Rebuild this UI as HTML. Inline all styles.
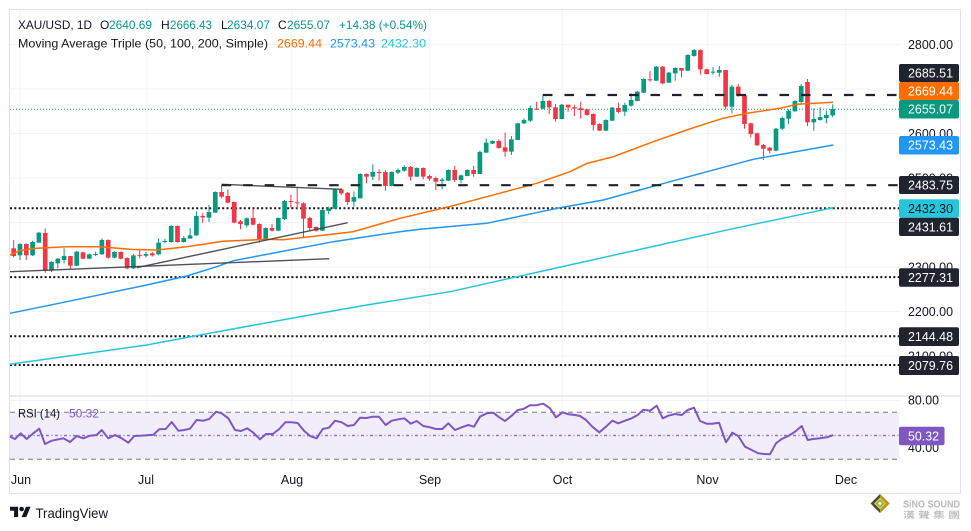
<!DOCTYPE html>
<html>
<head>
<meta charset="utf-8">
<style>
html,body{margin:0;padding:0;background:#fff;}
svg{display:block;}
text{font-family:"Liberation Sans","DejaVu Sans",sans-serif;}
</style>
</head>
<body>
<svg width="971" height="531" viewBox="0 0 971 531" xmlns="http://www.w3.org/2000/svg">
<rect x="0" y="0" width="971" height="531" fill="#ffffff"/>

<!-- grid -->
<g stroke="#f0f3fa" stroke-width="1">
  <line x1="10" y1="44.5" x2="899" y2="44.5"/>
  <line x1="10" y1="89" x2="899" y2="89"/>
  <line x1="10" y1="133.5" x2="899" y2="133.5"/>
  <line x1="10" y1="178" x2="899" y2="178"/>
  <line x1="10" y1="222.5" x2="899" y2="222.5"/>
  <line x1="10" y1="267" x2="899" y2="267"/>
  <line x1="10" y1="311.5" x2="899" y2="311.5"/>
  <line x1="10" y1="356" x2="899" y2="356"/>
  <line x1="10" y1="400.5" x2="899" y2="400.5"/>
  <line x1="10" y1="447.6" x2="899" y2="447.6"/>
  <line x1="20" y1="10" x2="20" y2="464"/>
  <line x1="147" y1="10" x2="147" y2="464"/>
  <line x1="291.7" y1="10" x2="291.7" y2="464"/>
  <line x1="430" y1="10" x2="430" y2="464"/>
  <line x1="562.3" y1="10" x2="562.3" y2="464"/>
  <line x1="707.7" y1="10" x2="707.7" y2="464"/>
  <line x1="845.7" y1="10" x2="845.7" y2="464"/>
</g>

<!-- frame -->
<rect x="9.5" y="9.5" width="951" height="484" fill="none" stroke="#e0e3eb" stroke-width="1"/>
<line x1="10" y1="396" x2="960" y2="396" stroke="#e0e3eb" stroke-width="1.5"/>

<!-- header -->
<g font-size="12">
  <text x="18" y="29" fill="#131722" textLength="74" lengthAdjust="spacingAndGlyphs">XAU/USD, 1D</text>
  <text x="100" y="29" fill="#131722">O</text>
  <text x="109" y="29" fill="#089981" textLength="43" lengthAdjust="spacingAndGlyphs">2640.69</text>
  <text x="161" y="29" fill="#131722">H</text>
  <text x="170" y="29" fill="#089981" textLength="42" lengthAdjust="spacingAndGlyphs">2666.43</text>
  <text x="221" y="29" fill="#131722">L</text>
  <text x="227" y="29" fill="#089981" textLength="43" lengthAdjust="spacingAndGlyphs">2634.07</text>
  <text x="278" y="29" fill="#131722">C</text>
  <text x="287" y="29" fill="#089981" textLength="43" lengthAdjust="spacingAndGlyphs">2655.07</text>
  <text x="339" y="29" fill="#089981" textLength="88" lengthAdjust="spacingAndGlyphs">+14.38 (+0.54%)</text>
  <text x="18" y="47.5" fill="#131722" textLength="250" lengthAdjust="spacingAndGlyphs">Moving Average Triple (50, 100, 200, Simple)</text>
  <text x="277" y="47.5" fill="#ff6d00" textLength="45" lengthAdjust="spacingAndGlyphs">2669.44</text>
  <text x="330" y="47.5" fill="#2196f3" textLength="45" lengthAdjust="spacingAndGlyphs">2573.43</text>
  <text x="381" y="47.5" fill="#26c6da" textLength="45" lengthAdjust="spacingAndGlyphs">2432.30</text>
</g>

<!-- horizontal levels -->
<line x1="10" y1="109.2" x2="899" y2="109.2" stroke="#089981" stroke-width="1" stroke-dasharray="1 2"/>
<g stroke="#131722" stroke-width="2" stroke-dasharray="2 2.33">
  <line x1="10" y1="208.2" x2="899" y2="208.2"/>
  <line x1="10" y1="277.1" x2="899" y2="277.1"/>
  <line x1="10" y1="336.2" x2="899" y2="336.2"/>
  <line x1="10" y1="365" x2="899" y2="365"/>
</g>

<!-- candles region 1 -->
<g transform="translate(7.4,150) scale(6.3,0.333333)">
<g fill="#f23645">
<rect x="0.92" y="270" width="0.16" height="52"/><rect x="0.63" y="295" width="0.74" height="23"/>
<rect x="2.92" y="280" width="0.16" height="50"/><rect x="2.63" y="282" width="0.74" height="34"/>
<rect x="5.92" y="235" width="0.16" height="133"/><rect x="5.63" y="249" width="0.74" height="113"/>
<rect x="9.92" y="318" width="0.16" height="39"/><rect x="9.63" y="318" width="0.74" height="29"/>
<rect x="11.92" y="305" width="0.16" height="23"/><rect x="11.63" y="307" width="0.74" height="19"/>
<rect x="15.92" y="268" width="0.16" height="58"/><rect x="15.63" y="270" width="0.74" height="53"/>
<rect x="17.92" y="304" width="0.16" height="24"/><rect x="17.63" y="306" width="0.74" height="20"/>
<rect x="18.92" y="322" width="0.16" height="36"/><rect x="18.63" y="324" width="0.74" height="31"/>
<rect x="20.92" y="298" width="0.16" height="27"/><rect x="20.63" y="314.5" width="0.74" height="3"/>
<rect x="22.92" y="306" width="0.16" height="14"/><rect x="22.63" y="310" width="0.74" height="6"/>
<rect x="26.92" y="226" width="0.16" height="52"/><rect x="26.63" y="228" width="0.74" height="48"/>
<rect x="30.92" y="190" width="0.16" height="28"/><rect x="30.63" y="198" width="0.74" height="4"/>
<rect x="33.92" y="105" width="0.16" height="40"/><rect x="33.63" y="126" width="0.74" height="14"/>
<rect x="34.92" y="118" width="0.16" height="42"/><rect x="34.63" y="138" width="0.74" height="20"/>
<rect x="35.92" y="155" width="0.16" height="65"/><rect x="35.63" y="156" width="0.74" height="62"/>
<rect x="36.92" y="210" width="0.16" height="28"/><rect x="36.63" y="214" width="0.74" height="8"/>
<rect x="38.92" y="176" width="0.16" height="50"/><rect x="38.63" y="204" width="0.74" height="20"/>
<rect x="39.92" y="220" width="0.16" height="58"/><rect x="39.63" y="222" width="0.74" height="46"/>
<rect x="41.92" y="222" width="0.16" height="23"/><rect x="41.63" y="234" width="0.74" height="8"/>
<rect x="44.92" y="134" width="0.16" height="41"/><rect x="44.63" y="153" width="0.74" height="3"/>
<rect x="45.92" y="113" width="0.16" height="65"/><rect x="45.63" y="157" width="0.74" height="3"/>
<rect x="46.92" y="157" width="0.16" height="105"/><rect x="46.63" y="160" width="0.74" height="46"/>
<rect x="47.92" y="200" width="0.16" height="41"/><rect x="47.63" y="204" width="0.74" height="30"/>
<rect x="48.92" y="229" width="0.16" height="16"/><rect x="48.63" y="231" width="0.74" height="11"/>
<rect x="52.92" y="115" width="0.16" height="20"/><rect x="52.63" y="118" width="0.74" height="12"/>
<rect x="53.92" y="126" width="0.16" height="39"/><rect x="53.63" y="128" width="0.74" height="28"/>
</g>
<g fill="#089981">
<rect x="1.92" y="280" width="0.16" height="50"/><rect x="1.63" y="282" width="0.74" height="34"/>
<rect x="3.92" y="272" width="0.16" height="46"/><rect x="3.63" y="276" width="0.74" height="40"/>
<rect x="4.92" y="246" width="0.16" height="32"/><rect x="4.63" y="248" width="0.74" height="30"/>
<rect x="6.92" y="334" width="0.16" height="32"/><rect x="6.63" y="336" width="0.74" height="26"/>
<rect x="7.92" y="324" width="0.16" height="31"/><rect x="7.63" y="326" width="0.74" height="14"/>
<rect x="8.92" y="295" width="0.16" height="45"/><rect x="8.63" y="318" width="0.74" height="12"/>
<rect x="10.92" y="303" width="0.16" height="45"/><rect x="10.63" y="305" width="0.74" height="42"/>
<rect x="12.92" y="311" width="0.16" height="17"/><rect x="12.63" y="313" width="0.74" height="13"/>
<rect x="13.92" y="305" width="0.16" height="13"/><rect x="13.63" y="312" width="0.74" height="3"/>
<rect x="14.92" y="265" width="0.16" height="50"/><rect x="14.63" y="270" width="0.74" height="43"/>
<rect x="16.92" y="304" width="0.16" height="21"/><rect x="16.63" y="306" width="0.74" height="17"/>
<rect x="19.92" y="312" width="0.16" height="45"/><rect x="19.63" y="316" width="0.74" height="39"/>
<rect x="21.92" y="305" width="0.16" height="17"/><rect x="21.63" y="312" width="0.74" height="5"/>
<rect x="23.92" y="265" width="0.16" height="51"/><rect x="23.63" y="278" width="0.74" height="35"/>
<rect x="24.92" y="267" width="0.16" height="13"/><rect x="24.63" y="273" width="0.74" height="3"/>
<rect x="25.92" y="226" width="0.16" height="52"/><rect x="25.63" y="228" width="0.74" height="48"/>
<rect x="27.92" y="258" width="0.16" height="20"/><rect x="27.63" y="264" width="0.74" height="12"/>
<rect x="28.92" y="235" width="0.16" height="31"/><rect x="28.63" y="256" width="0.74" height="10"/>
<rect x="29.92" y="184" width="0.16" height="74"/><rect x="29.63" y="198" width="0.74" height="58"/>
<rect x="31.92" y="165" width="0.16" height="51"/><rect x="31.63" y="186" width="0.74" height="17"/>
<rect x="32.92" y="124" width="0.16" height="64"/><rect x="32.63" y="126" width="0.74" height="62"/>
<rect x="37.92" y="202" width="0.16" height="30"/><rect x="37.63" y="205" width="0.74" height="21"/>
<rect x="40.92" y="232" width="0.16" height="40"/><rect x="40.63" y="234" width="0.74" height="34"/>
<rect x="42.92" y="202" width="0.16" height="42"/><rect x="42.63" y="204" width="0.74" height="38"/>
<rect x="43.92" y="150" width="0.16" height="60"/><rect x="43.63" y="153" width="0.74" height="54"/>
<rect x="49.92" y="178" width="0.16" height="65"/><rect x="49.63" y="180" width="0.74" height="62"/>
<rect x="50.92" y="170" width="0.16" height="23"/><rect x="50.63" y="175" width="0.74" height="8"/>
<rect x="51.92" y="116" width="0.16" height="61"/><rect x="51.63" y="118" width="0.74" height="58"/>
<rect x="54.92" y="124" width="0.16" height="46"/><rect x="54.63" y="141" width="0.74" height="14"/>
</g>
</g>

<!-- candles region 2 -->
<g transform="translate(7.4,80) scale(6.3,0.333333)">
<g fill="#f23645">
<rect x="56.92" y="280" width="0.16" height="30"/><rect x="56.63" y="282" width="0.74" height="8"/>
<rect x="58.92" y="268" width="0.16" height="34"/><rect x="58.63" y="276" width="0.74" height="3"/>
<rect x="59.92" y="270" width="0.16" height="62"/><rect x="59.63" y="276" width="0.74" height="42"/>
<rect x="63.92" y="258" width="0.16" height="44"/><rect x="63.63" y="261" width="0.74" height="29"/>
<rect x="65.92" y="262" width="0.16" height="36"/><rect x="65.63" y="264" width="0.74" height="26"/>
<rect x="66.92" y="284" width="0.16" height="18"/><rect x="66.63" y="288" width="0.74" height="8"/>
<rect x="67.92" y="290" width="0.16" height="40"/><rect x="67.63" y="294" width="0.74" height="11"/>
<rect x="70.92" y="258" width="0.16" height="48"/><rect x="70.63" y="270" width="0.74" height="30"/>
<rect x="73.92" y="258" width="0.16" height="32"/><rect x="73.63" y="270" width="0.74" height="12"/>
<rect x="77.92" y="178" width="0.16" height="28"/><rect x="77.63" y="183" width="0.74" height="21"/>
<rect x="78.92" y="158" width="0.16" height="72"/><rect x="78.63" y="202" width="0.74" height="13"/>
<rect x="83.92" y="66" width="0.16" height="24"/><rect x="83.63" y="86" width="0.74" height="3"/>
<rect x="85.92" y="60" width="0.16" height="42"/><rect x="85.63" y="63" width="0.74" height="19"/>
<rect x="86.92" y="72" width="0.16" height="53"/><rect x="86.63" y="82" width="0.74" height="35"/>
<rect x="88.92" y="74" width="0.16" height="21"/><rect x="88.63" y="74" width="0.74" height="8"/>
<rect x="89.92" y="74" width="0.16" height="34"/><rect x="89.63" y="82" width="0.74" height="4"/>
</g>
<g fill="#089981">
<rect x="55.92" y="280" width="0.16" height="76"/><rect x="55.63" y="282" width="0.74" height="73"/>
<rect x="57.92" y="253" width="0.16" height="47"/><rect x="57.63" y="276" width="0.74" height="14"/>
<rect x="60.92" y="274" width="0.16" height="45"/><rect x="60.63" y="276" width="0.74" height="42"/>
<rect x="61.92" y="265" width="0.16" height="17"/><rect x="61.63" y="270" width="0.74" height="8"/>
<rect x="62.92" y="256" width="0.16" height="19"/><rect x="62.63" y="261" width="0.74" height="11"/>
<rect x="64.92" y="262" width="0.16" height="29"/><rect x="64.63" y="264" width="0.74" height="26"/>
<rect x="68.92" y="293" width="0.16" height="35"/><rect x="68.63" y="299" width="0.74" height="4"/>
<rect x="69.92" y="268" width="0.16" height="35"/><rect x="69.63" y="270" width="0.74" height="32"/>
<rect x="71.92" y="284" width="0.16" height="26"/><rect x="71.63" y="286" width="0.74" height="14"/>
<rect x="72.92" y="268" width="0.16" height="21"/><rect x="72.63" y="270" width="0.74" height="18"/>
<rect x="74.92" y="212" width="0.16" height="70"/><rect x="74.63" y="216" width="0.74" height="66"/>
<rect x="75.92" y="175" width="0.16" height="43"/><rect x="75.63" y="188" width="0.74" height="30"/>
<rect x="76.92" y="181" width="0.16" height="11"/><rect x="76.63" y="183" width="0.74" height="8"/>
<rect x="79.92" y="168" width="0.16" height="57"/><rect x="79.63" y="178" width="0.74" height="37"/>
<rect x="80.92" y="128" width="0.16" height="52"/><rect x="80.63" y="130" width="0.74" height="50"/>
<rect x="81.92" y="115" width="0.16" height="17"/><rect x="81.63" y="120" width="0.74" height="10"/>
<rect x="82.92" y="76" width="0.16" height="50"/><rect x="82.63" y="84" width="0.74" height="38"/>
<rect x="84.92" y="44" width="0.16" height="44"/><rect x="84.63" y="63" width="0.74" height="23"/>
<rect x="87.92" y="72" width="0.16" height="46"/><rect x="87.63" y="74" width="0.74" height="43"/>
</g>
</g>

<!-- candles region 3 -->
<g transform="translate(7.4,40) scale(6.3,0.333333)">
<g fill="#f23645">
<rect x="90.92" y="185" width="0.16" height="51"/><rect x="90.63" y="205" width="0.74" height="5"/>
<rect x="91.92" y="206" width="0.16" height="21"/><rect x="91.63" y="208" width="0.74" height="17"/>
<rect x="92.92" y="220" width="0.16" height="52"/><rect x="92.63" y="222" width="0.74" height="33"/>
<rect x="93.92" y="250" width="0.16" height="23"/><rect x="93.63" y="252" width="0.74" height="20"/>
<rect x="96.92" y="188" width="0.16" height="32"/><rect x="96.63" y="204" width="0.74" height="12"/>
<rect x="101.92" y="93" width="0.16" height="32"/><rect x="101.63" y="118" width="0.74" height="3"/>
<rect x="103.92" y="78" width="0.16" height="55"/><rect x="103.63" y="80" width="0.74" height="50"/>
<rect x="106.92" y="84" width="0.16" height="28"/><rect x="106.63" y="84" width="0.74" height="8"/>
<rect x="109.92" y="28" width="0.16" height="76"/><rect x="109.63" y="30" width="0.74" height="58"/>
<rect x="110.92" y="86" width="0.16" height="17"/><rect x="110.63" y="88" width="0.74" height="14"/>
<rect x="113.92" y="90" width="0.16" height="118"/><rect x="113.63" y="90" width="0.74" height="110"/>
<rect x="115.92" y="132" width="0.16" height="38"/><rect x="115.63" y="140" width="0.74" height="26"/>
<rect x="116.92" y="164" width="0.16" height="102"/><rect x="116.63" y="166" width="0.74" height="86"/>
<rect x="117.92" y="248" width="0.16" height="44"/><rect x="117.63" y="250" width="0.74" height="32"/>
<rect x="118.92" y="278" width="0.16" height="40"/><rect x="118.63" y="280" width="0.74" height="36"/>
<rect x="119.92" y="312" width="0.16" height="48"/><rect x="119.63" y="315" width="0.74" height="11"/>
<rect x="120.92" y="320" width="0.16" height="20"/><rect x="120.63" y="323" width="0.74" height="9"/>
<rect x="126.92" y="117" width="0.16" height="141"/><rect x="126.63" y="126" width="0.74" height="121"/>
</g>
<g fill="#089981">
<rect x="94.92" y="238" width="0.16" height="35"/><rect x="94.63" y="240" width="0.74" height="32"/>
<rect x="95.92" y="201" width="0.16" height="42"/><rect x="95.63" y="203" width="0.74" height="39"/>
<rect x="97.92" y="188" width="0.16" height="40"/><rect x="97.63" y="195" width="0.74" height="20"/>
<rect x="98.92" y="160" width="0.16" height="40"/><rect x="98.63" y="180" width="0.74" height="17"/>
<rect x="99.92" y="153" width="0.16" height="31"/><rect x="99.63" y="155" width="0.74" height="28"/>
<rect x="100.92" y="115" width="0.16" height="44"/><rect x="100.63" y="117" width="0.74" height="41"/>
<rect x="102.92" y="78" width="0.16" height="45"/><rect x="102.63" y="80" width="0.74" height="42"/>
<rect x="104.92" y="96" width="0.16" height="33"/><rect x="104.63" y="98" width="0.74" height="30"/>
<rect x="105.92" y="82" width="0.16" height="40"/><rect x="105.63" y="84" width="0.74" height="16"/>
<rect x="107.92" y="43" width="0.16" height="50"/><rect x="107.63" y="45" width="0.74" height="47"/>
<rect x="108.92" y="27" width="0.16" height="23"/><rect x="108.63" y="30" width="0.74" height="18"/>
<rect x="111.92" y="82" width="0.16" height="22"/><rect x="111.63" y="95" width="0.74" height="3"/>
<rect x="112.92" y="78" width="0.16" height="32"/><rect x="112.63" y="90" width="0.74" height="8"/>
<rect x="114.92" y="135" width="0.16" height="85"/><rect x="114.63" y="140" width="0.74" height="60"/>
<rect x="121.92" y="264" width="0.16" height="70"/><rect x="121.63" y="266" width="0.74" height="66"/>
<rect x="122.92" y="230" width="0.16" height="40"/><rect x="122.63" y="234" width="0.74" height="32"/>
<rect x="123.92" y="208" width="0.16" height="44"/><rect x="123.63" y="212" width="0.74" height="24"/>
<rect x="124.92" y="181" width="0.16" height="34"/><rect x="124.63" y="183" width="0.74" height="31"/>
<rect x="125.92" y="132" width="0.16" height="58"/><rect x="125.63" y="138" width="0.74" height="48"/>
<rect x="127.92" y="205" width="0.16" height="67"/><rect x="127.63" y="237" width="0.74" height="10"/>
<rect x="128.92" y="202" width="0.16" height="40"/><rect x="128.63" y="231" width="0.74" height="9"/>
<rect x="129.92" y="212" width="0.16" height="38"/><rect x="129.63" y="225" width="0.74" height="9"/>
<rect x="130.92" y="193" width="0.16" height="39"/><rect x="130.63" y="207" width="0.74" height="19"/>
</g>
</g>

<!-- moving averages -->
<polyline fill="none" stroke="#26c6da" stroke-width="1.5" points="10,364.3 146.7,345 200,335 300,316.7 366.7,305 450,291.7 550,269.4 650,247.1 730,229.3 833.3,207.7"/>
<polyline fill="none" stroke="#2196f3" stroke-width="1.5" points="10,313.3 66.7,301.7 146.7,285 186.7,276 216.7,266.7 233.3,260.7 333.3,241.7 400,231.7 420,229.3 486.7,223.3 560,207.7 603.3,200 670,181.7 703.3,172.7 753.3,159.3 833.3,145"/>
<polyline fill="none" stroke="#ff6d00" stroke-width="1.5" points="10,255 20,250.5 33,248.5 66.7,246.7 100,246.7 133,249.5 157,250 186.7,246.7 223,241.3 266.7,239.3 283,239.8 316.7,236 353,231.7 400,218.3 450,206.5 486.7,196.7 536.7,183.3 570,171.7 586.7,163.5 613.3,156.7 653.3,141.7 686.7,130 707,123.3 723,118.3 747,113.3 780,108.3 797,104.3 833,102.3"/>

<!-- trendlines -->
<g stroke="#3d3f47" stroke-width="1.4" stroke-opacity="0.9">
  <line x1="10" y1="271.7" x2="329.3" y2="258.7"/>
  <line x1="136.7" y1="267.7" x2="347.7" y2="222.7"/>
  <line x1="221.7" y1="184.3" x2="341.7" y2="189.3"/>
</g>
<g stroke="#1e222d" stroke-width="2.2" stroke-dasharray="9.5 12">
  <line x1="221.7" y1="185.2" x2="899" y2="185.2"/>
  <line x1="543" y1="95" x2="899" y2="95"/>
</g>

<!-- price axis plain labels -->
<g font-size="12.5" fill="#131722">
  <text x="908" y="49" textLength="45" lengthAdjust="spacingAndGlyphs">2800.00</text>
  <text x="908" y="93.5" textLength="45" lengthAdjust="spacingAndGlyphs">2700.00</text>
  <text x="908" y="138" textLength="45" lengthAdjust="spacingAndGlyphs">2600.00</text>
  <text x="908" y="182.5" textLength="45" lengthAdjust="spacingAndGlyphs">2500.00</text>
  <text x="908" y="227" textLength="45" lengthAdjust="spacingAndGlyphs">2400.00</text>
  <text x="908" y="271.5" textLength="45" lengthAdjust="spacingAndGlyphs">2300.00</text>
  <text x="908" y="316" textLength="45" lengthAdjust="spacingAndGlyphs">2200.00</text>
  <text x="908" y="360.5" textLength="45" lengthAdjust="spacingAndGlyphs">2100.00</text>
</g>

<!-- price axis boxes -->
<g>
  <rect x="899" y="64" width="60" height="18" rx="2" fill="#20242f"/>
  <rect x="899" y="82" width="60" height="18" rx="2" fill="#ff6d00"/>
  <rect x="899" y="100" width="60" height="18.5" rx="2" fill="#089981"/>
  <rect x="899" y="136" width="60" height="18.5" rx="2" fill="#2196f3"/>
  <rect x="899" y="176" width="60" height="18" rx="2" fill="#20242f"/>
  <rect x="899" y="199.3" width="60" height="18.4" rx="2" fill="#26c6da"/>
  <rect x="899" y="217.7" width="60" height="18.3" rx="2" fill="#20242f"/>
  <rect x="899" y="268.3" width="60" height="18.4" rx="2" fill="#20242f"/>
  <rect x="899" y="327.3" width="60" height="18.7" rx="2" fill="#20242f"/>
  <rect x="899" y="356" width="60" height="19" rx="2" fill="#20242f"/>
</g>
<g font-size="12.5" fill="#ffffff">
  <text x="908" y="77.5" textLength="45" lengthAdjust="spacingAndGlyphs">2685.51</text>
  <text x="908" y="95.5" textLength="45" lengthAdjust="spacingAndGlyphs">2669.44</text>
  <text x="908" y="113.7" textLength="45" lengthAdjust="spacingAndGlyphs">2655.07</text>
  <text x="908" y="149.7" textLength="45" lengthAdjust="spacingAndGlyphs">2573.43</text>
  <text x="908" y="189.5" textLength="45" lengthAdjust="spacingAndGlyphs">2483.75</text>
  <text x="908" y="213" textLength="45" lengthAdjust="spacingAndGlyphs" fill="#131722">2432.30</text>
  <text x="908" y="231.3" textLength="45" lengthAdjust="spacingAndGlyphs">2431.61</text>
  <text x="908" y="282" textLength="45" lengthAdjust="spacingAndGlyphs">2277.31</text>
  <text x="908" y="341.2" textLength="45" lengthAdjust="spacingAndGlyphs">2144.48</text>
  <text x="908" y="370" textLength="45" lengthAdjust="spacingAndGlyphs">2079.76</text>
</g>

<!-- RSI pane -->
<rect x="10" y="412.3" width="889" height="47" fill="#f2eef9"/>
<g stroke="#787b86" stroke-width="1" stroke-dasharray="5 4">
  <line x1="10" y1="412.3" x2="899" y2="412.3"/>
  <line x1="10" y1="459.3" x2="899" y2="459.3"/>
</g>
<line x1="10" y1="435.5" x2="899" y2="435.5" stroke="#8f74cf" stroke-width="1.4" stroke-dasharray="3 2.5 1 2.5"/>
<polyline fill="none" stroke="#7e57c2" stroke-width="2" stroke-linejoin="round" points="10,436.7 15,439 20.7,433.3 26.7,439 33.3,433.3 39.3,428.7 45,444 51.7,440.7 63.3,438.3 70,442 76.7,436 83.3,438.3 90,435.7 96.7,435 101.7,430 108.3,438.3 115,435 121.7,438.3 128.3,442.7 134.3,436 140,435.7 146.7,435.3 153.3,434.7 159.3,429.3 165.7,429 171.7,422 178.3,430.7 184.3,430 190,428.7 196.7,420 203.3,420.7 209.3,419 216,411.7 221.7,413.3 228.3,418.3 235,430 241,431 247.3,428.3 253.3,432.7 260,439.3 266,434 272.7,434 279.3,429 285.3,422.3 291.7,422.3 297.7,423 304,430.7 310,436 316.7,438.3 322.7,429 329,427.7 335,420.7 341.7,422.3 347.7,426 354,425 360,417.7 366.7,418 372.7,416.7 379,416.7 385.7,425 391.7,420.7 398.3,419.3 404.3,418.3 410.7,423.7 416.7,421 423.3,426 430,427.3 436,429 442.3,429 448.3,423.3 455,430 461.7,427.3 468.3,425 474,426.7 480,416.7 486.7,413.3 493.3,412.7 498.3,416.7 505,421 511.7,415.7 517.7,410 523.3,409 530,405.3 536,405.3 543.3,403.7 550,408.3 556,417.3 562.7,412.3 568.3,414.3 575,415 580,416 586,420 592.3,426.7 599.3,432.3 606,426.7 612.3,420.7 618.3,423.3 625,420.7 631.7,418.3 637.7,415 643.3,409.7 650,410.7 656.7,405.7 662.7,418.3 668.3,415.7 675,414 681.7,415 687.7,410 694,407.7 700,421 706.7,423.7 712.3,423.7 719,422.7 726,442.3 732.3,432.7 738.3,436 745,446.7 751.7,450 758.3,453.3 764.3,454 770,454.3 776,443.3 781.7,439 788.3,436 795,431.7 801.7,426 807.7,440 813.3,439 820,438.3 826.7,437.3 833.3,435.2"/>
<g font-size="12">
  <text x="18" y="417.5" fill="#131722" textLength="42" lengthAdjust="spacingAndGlyphs">RSI (14)</text>
  <text x="69" y="417.5" fill="#7e57c2" textLength="30" lengthAdjust="spacingAndGlyphs">50.32</text>
</g>
<g font-size="12.5" fill="#131722">
  <text x="908" y="404.5" textLength="31" lengthAdjust="spacingAndGlyphs">80.00</text>
  <text x="908" y="452" textLength="31" lengthAdjust="spacingAndGlyphs">40.00</text>
</g>
<rect x="899" y="426.7" width="45.5" height="18.5" rx="2" fill="#7e57c2"/>
<text x="908" y="440.5" font-size="12.5" fill="#ffffff" textLength="31" lengthAdjust="spacingAndGlyphs">50.32</text>

<!-- time axis -->
<g font-size="12.5" fill="#131722" text-anchor="middle">
  <text x="21" y="484">Jun</text>
  <text x="146" y="484">Jul</text>
  <text x="292" y="484">Aug</text>
  <text x="430" y="484">Sep</text>
  <text x="562.5" y="484">Oct</text>
  <text x="707.5" y="484">Nov</text>
  <text x="846" y="484">Dec</text>
</g>

<!-- TradingView logo -->
<g transform="translate(10,504.4) scale(0.58)" fill="#131722">
  <path d="M14 22H7V11H0V4h14v18zM28 22h-8l7.5-18h8L28 22z"/>
  <circle cx="20" cy="8" r="4"/>
</g>
<text x="35.5" y="518" font-size="14" fill="#131722" textLength="72.5" lengthAdjust="spacingAndGlyphs">TradingView</text>

<!-- Sino Sound logo -->
<g>
  <polygon points="880,494 889.5,503.5 880,513 870.5,503.5" fill="#4a4a40"/>
  <polygon points="880,494 889.5,503.5 880,513" fill="#b89a1c"/>
  <polygon points="880,497.5 886,503.5 880,509.5 874,503.5" fill="#e0c83a"/>
  <polygon points="880,499.5 884,503.5 880,507.5 876,503.5" fill="#7cb342"/>
  <rect x="878.6" y="502.1" width="2.8" height="2.8" fill="#ffffff" transform="rotate(45 880 503.5)"/>
  <text x="903" y="507.5" font-size="10" font-weight="bold" fill="#b9b9b9" stroke="#d6d6d6" stroke-width="0.3" textLength="57" lengthAdjust="spacingAndGlyphs">SiNO SOUND</text>
  <text x="903" y="518" font-size="8.5" font-weight="bold" fill="#bdbdbd" textLength="57" lengthAdjust="spacingAndGlyphs" style="font-family:'Liberation Sans','Noto Sans CJK TC',sans-serif">漢 聲 集 團</text>
</g>
</svg>
</body>
</html>
